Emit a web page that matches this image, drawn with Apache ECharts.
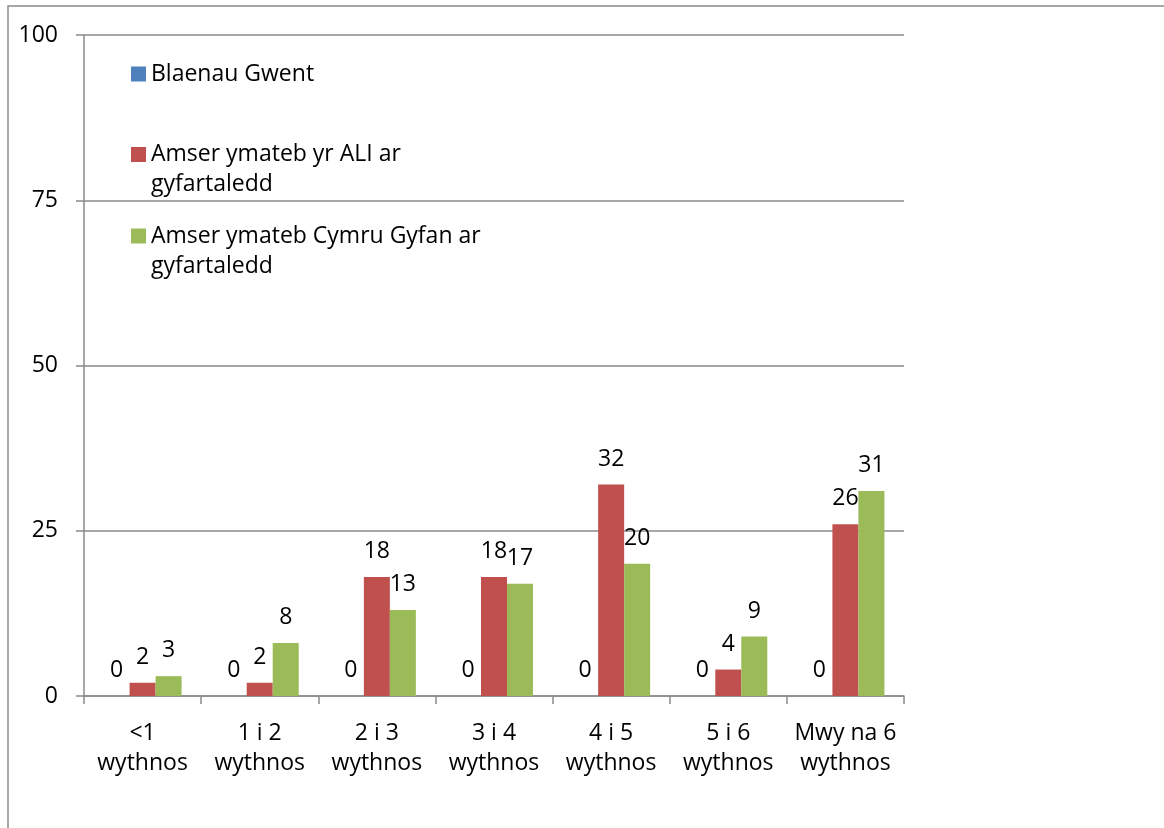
<!DOCTYPE html>
<html>
<head>
<meta charset="utf-8">
<script src="https://cdn.jsdelivr.net/npm/echarts@6/dist/echarts.min.js"></script>
<style>html,body{margin:0;padding:0;background:#fff}#c{width:1164px;height:828px}</style>
</head>
<body>
<div id="c"></div>
<script>
const categories = ['<1\nwythnos', '1 i 2\nwythnos', '2 i 3\nwythnos', '3 i 4\nwythnos', '4 i 5\nwythnos', '5 i 6\nwythnos', 'Mwy na 6\nwythnos'];
const seriesNames = ['Blaenau Gwent', 'Amser ymateb yr ALI ar gyfartaledd', 'Amser ymateb Cymru Gyfan ar gyfartaledd'];
const legendLabels = ['Blaenau Gwent', '\nAmser ymateb yr ALI ar\ngyfartaledd', '\nAmser ymateb Cymru Gyfan ar\ngyfartaledd'];
const blaenauGwent = [0, 0, 0, 0, 0, 0, 0];
const aliAverage = [2, 2, 18, 18, 32, 4, 26];
const walesAverage = [3, 8, 13, 17, 20, 9, 31];
const yTicks = { min: 0, max: 100, interval: 25 };

const colors = ['#4F81BD', '#C0504D', '#9BBB59'];
const FONT = 'Open Sans';
const GRAY = '#8a8a8a';

const chart = echarts.init(document.getElementById('c'));

function mkSeries(name, data, color) {
  return {
    name: name, type: 'bar', data: data,
    barGap: '0%', barCategoryGap: '33.4%',
    itemStyle: { color: color },
    label: { show: true, position: 'top', distance: 14, color: '#000', fontFamily: FONT, fontSize: 23 },
    emphasis: { disabled: true }
  };
}

function mkLegend(i, top) {
  return {
    data: [seriesNames[i]], left: 131, top: top, orient: 'vertical', padding: 0,
    itemWidth: 15, itemHeight: 15, icon: 'rect', selectedMode: false,
    formatter: function () { return legendLabels[i]; },
    textStyle: { fontFamily: FONT, fontSize: 23, color: '#000', lineHeight: 30 }
  };
}

chart.setOption({
  animation: false,
  color: colors,
  graphic: [{ type: 'rect', shape: { x: 8, y: 6, width: 1400, height: 1000 }, style: { fill: 'none', stroke: GRAY, lineWidth: 1.5 }, silent: true }],
  grid: { left: 84, right: 260, top: 35, bottom: 132, containLabel: false },
  legend: [mkLegend(0, 59), mkLegend(1, 109.5), mkLegend(2, 191)],
  xAxis: {
    type: 'category', data: categories,
    axisLine: { lineStyle: { color: GRAY, width: 1.5 } },
    axisTick: { show: true, length: 8, interval: 0, lineStyle: { color: GRAY, width: 1.5 } },
    axisLabel: { interval: 0, margin: 22, color: '#000', fontFamily: FONT, fontSize: 23, lineHeight: 30 }
  },
  yAxis: {
    type: 'value', min: yTicks.min, max: yTicks.max, interval: yTicks.interval,
    axisLine: { show: true, lineStyle: { color: GRAY, width: 1.5 } },
    axisTick: { show: true, length: 8, lineStyle: { color: GRAY, width: 1.5 } },
    splitLine: { show: true, lineStyle: { color: GRAY, width: 1.5 } },
    axisLabel: { margin: 26, color: '#000', fontFamily: FONT, fontSize: 23 }
  },
  series: [
    mkSeries(seriesNames[0], blaenauGwent, colors[0]),
    mkSeries(seriesNames[1], aliAverage, colors[1]),
    mkSeries(seriesNames[2], walesAverage, colors[2])
  ]
});
</script>
</body>
</html>
